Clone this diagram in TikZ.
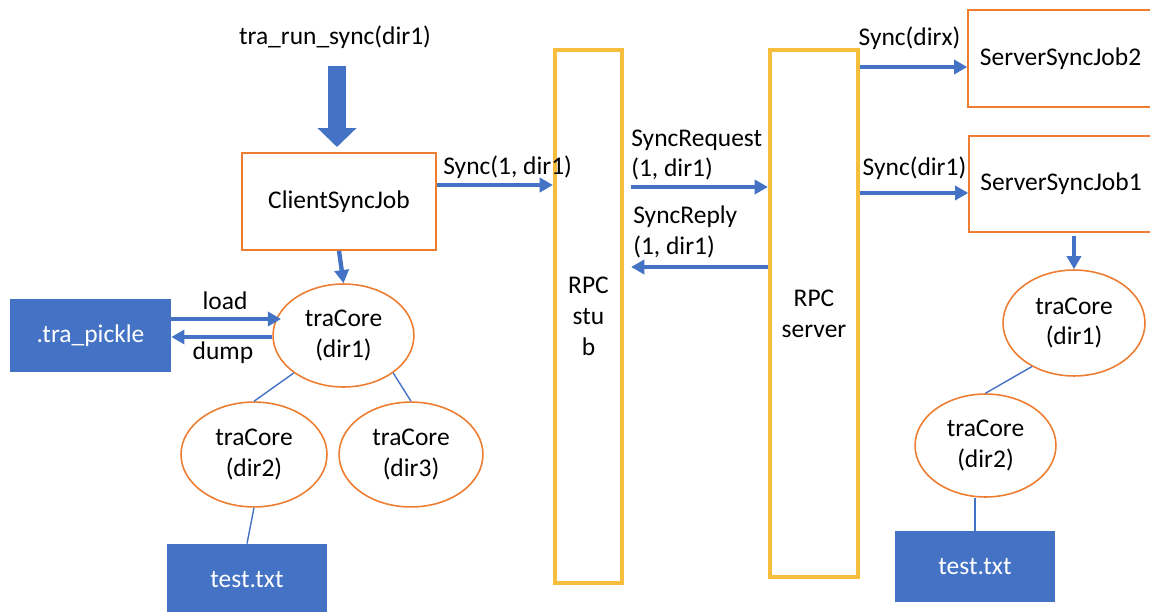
\documentclass[tikz,border=0pt]{standalone}
\usepackage{fontspec}
\setmainfont{Carlito}
\usetikzlibrary{arrows.meta,shapes.geometric}
\definecolor{oblue}{HTML}{4472C4}
\definecolor{oorange}{HTML}{ED7D31}
\definecolor{oyellow}{HTML}{F6BE3C}
\begin{document}
\begin{tikzpicture}[x=0.02cm,y=-0.02cm,
  every node/.style={font=\fontsize{14.5}{17.5}\selectfont},
  jobbox/.style={draw=oorange,line width=0.9pt,rectangle,inner sep=0pt,fill=white},
  corenode/.style={draw=oorange,line width=0.9pt,ellipse,inner sep=0pt,align=center},
  filebox/.style={fill=oblue,rectangle,inner sep=0pt,text=white},
  rpcbox/.style={draw=oyellow,line width=2.4pt,rectangle,inner sep=0pt,align=center},
  msg/.style={draw=oblue,line width=2.5pt,-{Triangle[length=7.5pt,width=8pt]}},
  bigarrow/.style={draw=oblue,line width=10.8pt,-{Triangle[length=10.8pt,width=21.6pt]}},
  tree/.style={draw=oblue,line width=0.8pt},
  lbl/.style={inner sep=0pt}]
\useasboundingbox (0,0) rectangle (1150,612);

% level coordinates
\coordinate (y67) at (0,67);
\coordinate (y185) at (0,185);
\coordinate (y187) at (0,187);
\coordinate (y193) at (0,193);
\coordinate (y267) at (0,267);
\coordinate (y319) at (0,319);
\coordinate (y337) at (0,337);

% nodes
\node[lbl] (runlbl) at (335,37) {tra\_run\_sync(dir1)};
\node[jobbox,minimum width=110.4pt,minimum height=55.2pt] (csj) at (339,201.5) {ClientSyncJob};
\node[rpcbox,minimum width=38.1pt,minimum height=303.3pt] (stub) at (588.5,316.5) {RPC\\stu\\b};
\node[rpcbox,minimum width=50.1pt,minimum height=299.9pt] (server) at (814,313.5) {RPC\\server};
\node[jobbox,minimum width=105.3pt,minimum height=55.2pt] (ssj2) at (1060.5,58.5) {ServerSyncJob2};
\node[jobbox,minimum width=104.7pt,minimum height=54.6pt] (ssj1) at (1061,184) {ServerSyncJob1};
\node[filebox,minimum width=91.6pt,minimum height=41.5pt] (pickle) at (90.5,335.5) {.tra\_pickle};
\node[filebox,minimum width=91pt,minimum height=41pt] (ltest) at (247,580) {test.txt};
\node[filebox,minimum width=91pt,minimum height=40.4pt] (rtest) at (975,566.5) {test.txt};
\node[corenode,minimum width=80.2pt,minimum height=58.6pt] (ld1) at (343.5,335.5) {traCore\\(dir1)};
\node[corenode,minimum width=83.1pt,minimum height=59.7pt] (ld2) at (254,454.5) {traCore\\(dir2)};
\node[corenode,minimum width=81.9pt,minimum height=59.7pt] (ld3) at (411,454.5) {traCore\\(dir3)};
\node[corenode,minimum width=80.8pt,minimum height=60.3pt] (rd1) at (1074,323) {traCore\\(dir1)};
\node[corenode,minimum width=80.2pt,minimum height=58.6pt] (rd2) at (985.5,445.5) {traCore\\(dir2)};

% labels
\node[lbl,anchor=west] (l1) at (443,167) {Sync(1, dir1)};
\node[lbl,anchor=west,align=left] (lreq) at (631,155) {SyncRequest\\(1, dir1)};
\node[lbl,anchor=west,align=left] (lrep) at (633,232) {SyncReply\\(1, dir1)};
\node[lbl] (ldx) at (909.5,38) {Sync(dirx)};
\node[lbl] (ld1l) at (914.5,168) {Sync(dir1)};
\node[lbl] (lload) at (225,301) {load};
\node[lbl] (ldump) at (223,353) {dump};

% big arrow
\coordinate (bigS) at (337,66);
\coordinate (bigE) at (337,147);
\draw[bigarrow] (bigS) -- (bigE);

% connectors
\draw[msg] (csj.east |- y185) -- (stub.west |- y185);
\draw[msg,shorten <=4pt] (stub.east |- y187) -- (server.west |- y187);
\draw[msg,shorten >=4pt] (server.west |- y267) -- (stub.east |- y267);
\draw[msg] (server.east |- y67) -- (ssj2.west |- y67);
\draw[msg] (server.east |- y193) -- (ssj1.west |- y193);
\draw[msg] (csj.south) -- (ld1.north);
\draw[msg,shorten >=-5pt] (pickle.east |- y319) -- (ld1.west |- y319);
\draw[msg] (ld1.west |- y337) -- (pickle.east |- y337);
\draw[msg,shorten <=2pt] (rd1.north |- ssj1.south) -- (rd1.north);

\draw[tree] (ld1.217) -- (ld2.north);
\draw[tree] (ld1.323) -- (ld3.north);
\draw[tree] (ld2.south) -- (ltest.north);
\draw[tree] (rd1.226) -- (rd2.north);
\draw[tree] (rtest.north |- rd2.south) -- (rtest.north);
\end{tikzpicture}
\end{document}
